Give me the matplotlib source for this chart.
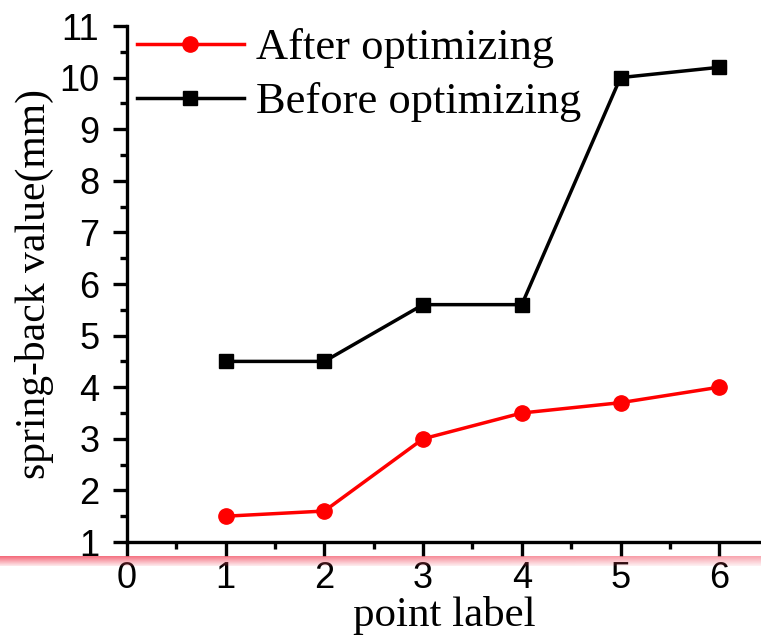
import matplotlib
matplotlib.use('Agg')
import matplotlib.pyplot as plt
from matplotlib.ticker import MultipleLocator
import numpy as np

points = [1, 2, 3, 4, 5, 6]
after_opt = [1.5, 1.6, 3.0, 3.5, 3.7, 4.0]
before_opt = [4.5, 4.5, 5.6, 5.6, 10.0, 10.2]
x_ticks = [0, 1, 2, 3, 4, 5, 6]
y_ticks = list(range(1, 12))
series_labels = ['After optimizing', 'Before optimizing']

W, H = 761, 637
fig = plt.figure(figsize=(W / 100, H / 100), dpi=100)
ax = fig.add_axes([127 / W, 1 - 542 / H, 634 / W, 516 / H])

ax.plot(points, after_opt, color='#ff0000', marker='o', ms=11, lw=2.5,
        label=series_labels[0])
ax.plot(points, before_opt, color='black', marker='s', ms=10, lw=2.5,
        label=series_labels[1])

ax.set_xlim(0, 634 / 98.7)
ax.set_ylim(1, 11)
ax.set_xticks(x_ticks)
ax.set_yticks(y_ticks)
ax.xaxis.set_minor_locator(MultipleLocator(0.5))
ax.yaxis.set_minor_locator(MultipleLocator(0.5))

for s in ['top', 'right']:
    ax.spines[s].set_visible(False)
for s in ['left', 'bottom']:
    ax.spines[s].set_linewidth(2.4)

ax.tick_params(which='major', direction='out', length=10, width=2.4)
ax.tick_params(which='minor', direction='out', length=5, width=2.4)
ax.tick_params(axis='y', which='major', pad=10)
ax.tick_params(axis='x', which='major', pad=4)
for lab in ax.get_xticklabels() + ax.get_yticklabels():
    lab.set_fontfamily('Liberation Sans')
    lab.set_fontsize(26)

ax.set_xlabel('point label', fontfamily='Liberation Serif', fontsize=31, labelpad=0)
ax.set_ylabel('spring-back value(mm)', fontfamily='Liberation Serif', fontsize=30, labelpad=4)

leg = ax.legend(loc='upper left', bbox_to_anchor=(10 / 634, 1.0 - 2 / 516),
                frameon=False, prop={'family': 'Liberation Serif', 'size': 32},
                handlelength=2.4, handletextpad=0.28, labelspacing=0.32,
                borderpad=0, borderaxespad=0)

# decorative pink gradient band under the x axis
band = fig.add_axes([0, 1 - 566 / H, 1, 10 / H])
band.set_axis_off()
nx, ny = 200, 20
xs = np.linspace(0, 1, nx)
ys = np.linspace(0, 1, ny)[:, None]
img = np.zeros((ny, nx, 4))
img[..., 0] = 0.95
img[..., 1] = 0.30
img[..., 2] = 0.38
img[..., 3] = (0.85 - 0.35 * xs)[None, :] * (1 - 0.85 * ys)
band.imshow(img, aspect='auto', extent=(0, 1, 0, 1), interpolation='bilinear')

fig.savefig('out.png', dpi=100)
